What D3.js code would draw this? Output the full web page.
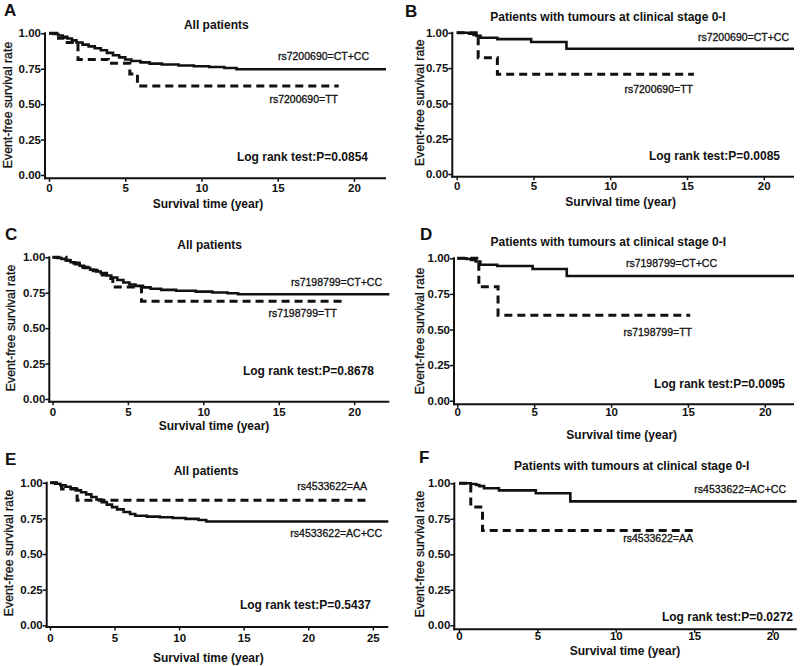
<!DOCTYPE html>
<html><head><meta charset="utf-8">
<script src="https://cdn.jsdelivr.net/npm/d3@7"></script>
<style>
body{margin:0;background:#fff}
svg{display:block}
text{font-family:"Liberation Sans",Arial,Helvetica,sans-serif;fill:#111}
</style>
</head><body>
<svg id="chart" width="800" height="666"></svg>
<script>
// ---------- DATA ----------
const panelLetters = ["A","B","C","D","E","F"];
const panelTitles = [
  "All patients",
  "Patients with tumours at clinical stage 0-I",
  "All patients",
  "Patients with tumours at clinical stage 0-I",
  "All patients",
  "Patients with tumours at clinical stage 0-I"
];
const pValues = ["0.0854","0.0085","0.8678","0.0095","0.5437","0.0272"];
const solidLabels = ["rs7200690=CT+CC","rs7200690=CT+CC","rs7198799=CT+CC","rs7198799=CT+CC","rs4533622=AC+CC","rs4533622=AC+CC"];
const dashedLabels = ["rs7200690=TT","rs7200690=TT","rs7198799=TT","rs7198799=TT","rs4533622=AA","rs4533622=AA"];
const xMax = [22.1, 21.97, 22.33, 21.9, 26.2, 21.54];
const xTickValues = [
  [0,5,10,15,20],[0,5,10,15,20],[0,5,10,15,20],
  [0,5,10,15,20],[0,5,10,15,20,25],[0,5,10,15,20]
];
const yTickValues = [0, 0.25, 0.5, 0.75, 1];
const yTickLabels = ["0.00","0.25","0.50","0.75","1.00"];
const xAxisTitle = "Survival time (year)";
const yAxisTitle = "Event-free survival rate";

// Kaplan-Meier curves: [time (year), survival]
const solidA = [[0,1],[0.3,0.995],[0.6,0.985],[0.9,0.975],[1.2,0.963],[1.5,0.95],[1.8,0.935],[2.2,0.92],[2.6,0.908],[3.0,0.895],[3.4,0.88],[3.8,0.862],[4.2,0.845],[4.6,0.83],[5.0,0.815],[5.4,0.805],[6.0,0.795],[6.6,0.786],[7.4,0.78],[8.5,0.773],[9.5,0.767],[10.5,0.762],[11.5,0.755],[12.3,0.746],[22.1,0.746]];
const dashedA = [[0,1],[0.5,0.965],[1.0,0.935],[1.9,0.815],[3.9,0.788],[5.3,0.713],[5.8,0.628],[19.0,0.628]];
const solidB = [[0,1],[0.8,0.993],[1.1,0.985],[1.3,0.978],[1.55,0.965],[2.65,0.955],[4.85,0.935],[7.15,0.887],[21.97,0.887]];
const dashedB = [[0,1],[1.4,0.824],[2.65,0.706],[15.45,0.706]];
const solidC = [[0,1],[0.3,0.995],[0.6,0.988],[0.9,0.978],[1.2,0.965],[1.5,0.952],[1.8,0.94],[2.1,0.925],[2.5,0.912],[2.9,0.9],[3.2,0.888],[3.6,0.872],[3.9,0.857],[4.3,0.84],[4.7,0.822],[5.1,0.808],[5.5,0.798],[6.0,0.788],[6.5,0.778],[7.2,0.77],[8.2,0.764],[9.5,0.758],[10.6,0.752],[11.6,0.746],[12.3,0.739],[22.33,0.739]];
const dashedC = [[0,1],[0.9,0.98],[1.4,0.96],[2.0,0.93],[2.7,0.905],[3.3,0.875],[3.7,0.85],[4.0,0.79],[5.9,0.69],[19.3,0.69]];
const solidD = [[0,1],[0.6,0.995],[0.9,0.988],[1.2,0.978],[1.5,0.955],[2.6,0.946],[4.9,0.925],[7.12,0.876],[21.9,0.876]];
const dashedD = [[0,1],[1.4,0.8],[2.65,0.6],[15.15,0.6]];
const solidE = [[0,1],[0.4,0.993],[0.8,0.982],[1.2,0.972],[1.6,0.96],[2.0,0.946],[2.4,0.933],[2.8,0.918],[3.2,0.9],[3.6,0.882],[4.0,0.864],[4.4,0.846],[4.8,0.829],[5.2,0.813],[5.7,0.795],[6.2,0.78],[6.6,0.768],[7.5,0.762],[8.5,0.758],[9.5,0.752],[10.5,0.746],[11.5,0.738],[12.1,0.728],[26.2,0.728]];
const dashedE = [[0,1],[0.9,0.955],[2.1,0.877],[24.6,0.877]];
const solidF = [[0,1],[0.75,0.995],[1.1,0.988],[1.3,0.98],[1.6,0.965],[2.55,0.95],[4.9,0.93],[7.1,0.873],[21.54,0.873]];
const dashedF = [[0,1],[0.75,0.833],[1.5,0.667],[15.0,0.667]];

const solidSeries = [solidA, solidB, solidC, solidD, solidE, solidF];
const dashedSeries = [dashedA, dashedB, dashedC, dashedD, dashedE, dashedF];

// ---------- LAYOUT (pixel geometry per panel) ----------
const layout = [
  {yAxisX:45,    x0:49,    x1:386,   yTop:33.3,  yZero:175,   xAxisY:178.3, xPad:2,   letter:[4,16],     title:[216.3,29],  xTitle:[208,207.5],   yTitle:[12,105],    sLab:[369,60],    dLab:[338,103],   pLab:[368,160.5]},
  {yAxisX:452.3, x0:456.7, x1:794,   yTop:32.8,  yZero:174,   xAxisY:176.7, xPad:1.5, letter:[405,17.3], title:[608,20.5],  xTitle:[620.7,206],   yTitle:[424,102.7], sLab:[789,41],    dLab:[693,92.5],  pLab:[780,159.5]},
  {yAxisX:49.3,  x0:52.5,  x1:389.3, yTop:257.3, yZero:399,   xAxisY:401.7, xPad:3,   letter:[5,240],    title:[209.7,249], xTitle:[214,430],     yTitle:[15,328],    sLab:[382,285.7], dLab:[337,317],   pLab:[374,375.3]},
  {yAxisX:454,   x0:457.3, x1:794,   yTop:258.3, yZero:400.7, xAxisY:404.3, xPad:0.5, letter:[420,240],  title:[608.3,245.5], xTitle:[621.7,438.5], yTitle:[424,331],  sLab:[717,266.7], dLab:[692,335.7], pLab:[785,387.8]},
  {yAxisX:46.7,  x0:50,    x1:388.3, yTop:482.7, yZero:625.3, xAxisY:627,   xPad:3,   letter:[5,465],    title:[206,474.5], xTitle:[208.3,662],   yTitle:[13,553],    sLab:[382,537.3], dLab:[367,490],   pLab:[371,608.7]},
  {yAxisX:454.3, x0:459,   x1:796.7, yTop:483.3, yZero:625.3, xAxisY:629.3, xPad:-0.5, letter:[419,462.7], title:[631.7,469.5], xTitle:[625,654.5], yTitle:[424,554],   sLab:[786,492.7], dLab:[693,541.7], pLab:[793,621.3]}
];

// ---------- DRAW ----------
const svg = d3.select("#chart");
const ink = "#111";

layout.forEach((L, i) => {
  const g = svg.append("g");
  const x = d3.scaleLinear().domain([0, xMax[i]]).range([L.x0, L.x1]);
  const y = d3.scaleLinear().domain([0, 1]).range([L.yZero, L.yTop]);

  // y axis
  const ya = g.append("g").attr("transform", `translate(${L.yAxisX},0)`)
    .call(d3.axisLeft(y).tickValues(yTickValues)
      .tickFormat((d, k) => yTickLabels[k]).tickSize(4).tickPadding(0).tickSizeOuter(0));
  ya.select(".domain").remove();
  ya.selectAll(".tick line").attr("stroke", ink).attr("stroke-width", 1.5);
  ya.selectAll(".tick text").style("font-size", "11.5px").style("font-weight", "bold").attr("fill", ink);

  // x axis
  const xa = g.append("g").attr("transform", `translate(0,${L.xAxisY})`)
    .call(d3.axisBottom(x).tickValues(xTickValues[i]).tickFormat(d3.format("d"))
      .tickSize(3.5).tickPadding(L.xPad).tickSizeOuter(0));
  xa.select(".domain").remove();
  xa.selectAll(".tick line").attr("stroke", ink).attr("stroke-width", 1.5);
  xa.selectAll(".tick text").style("font-size", "11.5px").style("font-weight", "bold").attr("fill", ink);

  // axis lines
  g.append("line").attr("x1", L.yAxisX).attr("x2", L.yAxisX)
    .attr("y1", L.yTop - 1).attr("y2", L.xAxisY + 1)
    .attr("stroke", ink).attr("stroke-width", 2);
  g.append("line").attr("x1", L.yAxisX - 1).attr("x2", L.x1)
    .attr("y1", L.xAxisY).attr("y2", L.xAxisY)
    .attr("stroke", ink).attr("stroke-width", 2);

  const line = d3.line().x(d => x(d[0])).y(d => y(d[1])).curve(d3.curveStepAfter);

  g.append("path").datum(solidSeries[i]).attr("d", line)
    .attr("fill", "none").attr("stroke", ink).attr("stroke-width", 2.6);
  g.append("path").datum(dashedSeries[i]).attr("d", line)
    .attr("fill", "none").attr("stroke", ink).attr("stroke-width", 3)
    .attr("stroke-dasharray", "8,5");

  // texts
  g.append("text").attr("x", L.letter[0]).attr("y", L.letter[1])
    .style("font-size", "17px").style("font-weight", "bold").text(panelLetters[i]);
  g.append("text").attr("x", L.title[0]).attr("y", L.title[1]).attr("text-anchor", "middle")
    .style("font-size", "12px").style("font-weight", "bold").text(panelTitles[i]);
  g.append("text").attr("x", L.xTitle[0]).attr("y", L.xTitle[1]).attr("text-anchor", "middle")
    .style("font-size", "12px").style("font-weight", "bold").text(xAxisTitle);
  g.append("text").attr("transform", `translate(${L.yTitle[0]},${L.yTitle[1]}) rotate(-90)`)
    .attr("text-anchor", "middle").style("font-size", "12.3px")
    .attr("stroke", ink).attr("stroke-width", 0.3).text(yAxisTitle);
  g.append("text").attr("x", L.sLab[0]).attr("y", L.sLab[1]).attr("text-anchor", "end")
    .style("font-size", "10.5px").attr("stroke", ink).attr("stroke-width", 0.3).text(solidLabels[i]);
  g.append("text").attr("x", L.dLab[0]).attr("y", L.dLab[1]).attr("text-anchor", "end")
    .style("font-size", "10.5px").attr("stroke", ink).attr("stroke-width", 0.3).text(dashedLabels[i]);
  g.append("text").attr("x", L.pLab[0]).attr("y", L.pLab[1]).attr("text-anchor", "end")
    .style("font-size", "12px").style("font-weight", "bold").text("Log rank test:P=" + pValues[i]);
});
</script>
</body></html>
